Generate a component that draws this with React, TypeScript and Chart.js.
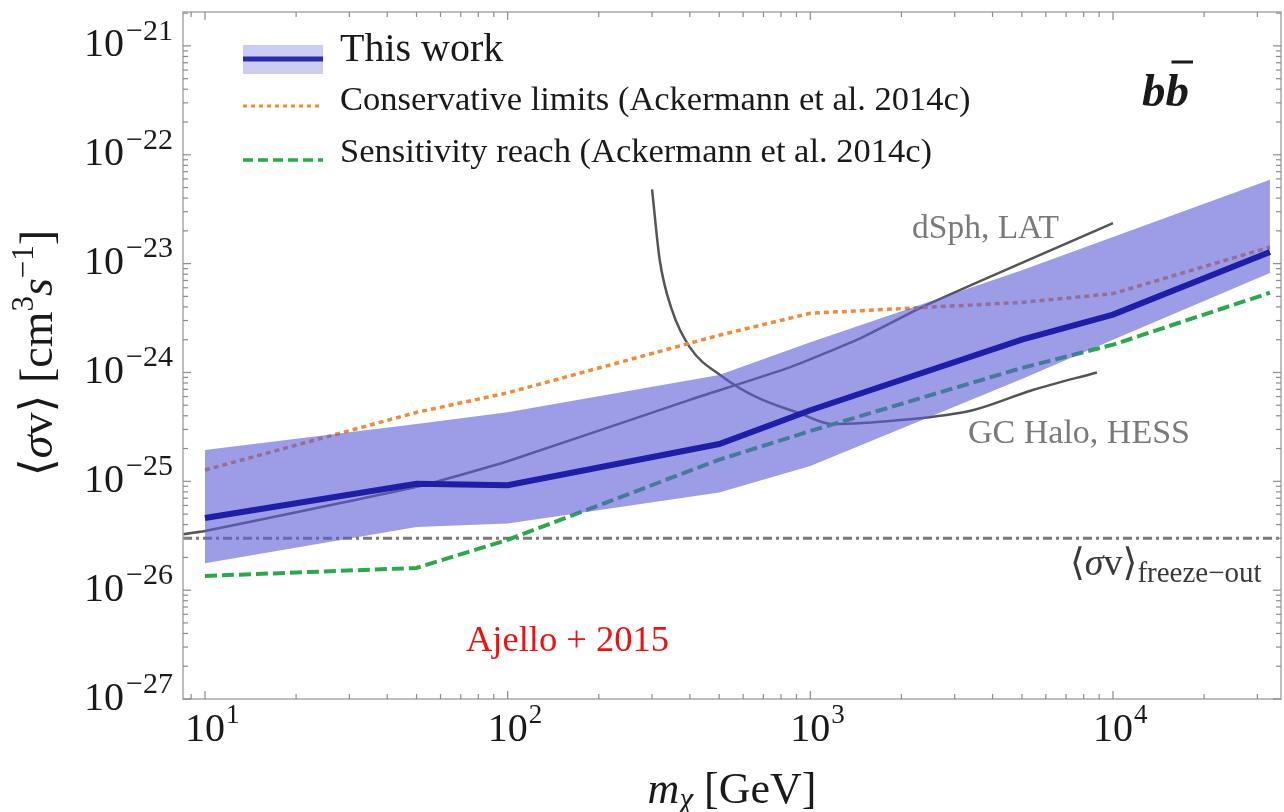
import React, { useEffect, useRef } from "react";
import { Chart, registerables } from "chart.js";

Chart.register(...registerables);

// Dark-matter mass grid (GeV) shared by the limit curves
const MASS = [10, 50, 100, 500, 1000, 5000, 10000, 33000];
// Median upper limit on <sigma v> (cm^3 s^-1), b-bbar channel
const THIS_WORK = [4.6e-26, 9.5e-26, 9.2e-26, 2.2e-25, 4.5e-25, 2.0e-24, 3.4e-24, 1.28e-23];
const BAND_HIGH = [1.94e-25, 3.36e-25, 4.3e-25, 9.5e-25, 1.9e-24, 8.7e-24, 1.76e-23, 5.9e-23];
const BAND_LOW = [1.77e-26, 3.8e-26, 4.1e-26, 7.9e-26, 1.38e-25, 8.7e-25, 2.0e-24, 8.2e-24];
const CONSERVATIVE = [1.27e-25, 4.3e-25, 6.5e-25, 2.2e-24, 3.5e-24, 4.4e-24, 5.3e-24, 1.42e-23];
const SENSITIVITY = [1.35e-26, 1.6e-26, 2.9e-26, 1.58e-25, 2.9e-25, 1.1e-24, 1.8e-24, 5.4e-24];

// dwarf spheroidal limits (Fermi-LAT)
const DSPH_MASS = [8, 10, 50, 100, 400, 860, 1430, 2350, 3900, 10000];
const DSPH = [3.2e-26, 3.5e-26, 8.9e-26, 1.53e-25, 5.6e-25, 1.12e-24, 2.0e-24, 4.0e-24, 7.5e-24, 2.36e-23];

// Galactic Centre halo limits (H.E.S.S.)
const HESS_MASS = [300, 318, 349, 400, 514, 667, 925, 1190, 1977, 3440, 5430, 8850];
const HESS = [4.8e-23, 1.08e-23, 3.75e-24, 1.7e-24, 9.1e-25, 5.9e-25, 4.2e-25, 3.35e-25, 3.65e-25, 4.5e-25, 6.9e-25, 1.0e-24];

// Thermal relic cross section
const FREEZE_OUT = 3e-26;

// Axis ranges and labelled decades
const X_MIN = 8.46;
const X_MAX = 35900;
const Y_MIN = 1e-27;
const Y_MAX = 2.05e-21;
const X_DECADES = [1, 2, 3, 4];
const Y_DECADES = [-21, -22, -23, -24, -25, -26, -27];

const SERIF = '"Liberation Serif", "Times New Roman", "DejaVu Serif", serif';

type Seg = { t: string; size: number; italic?: boolean; bold?: boolean; dy?: number; gap?: number };

function segFont(s: Seg) {
  return `${s.italic ? "italic " : ""}${s.bold ? "bold " : ""}${s.size}px ${SERIF}`;
}

function richWidth(ctx: CanvasRenderingContext2D, segs: Seg[]) {
  let w = 0;
  for (const s of segs) {
    ctx.font = segFont(s);
    w += ctx.measureText(s.t).width + (s.gap || 0);
  }
  return w;
}

function drawRich(
  ctx: CanvasRenderingContext2D,
  segs: Seg[],
  x: number,
  y: number,
  align: "left" | "center" | "right",
  color: string
) {
  const w = richWidth(ctx, segs);
  let cx = align === "left" ? x : align === "center" ? x - w / 2 : x - w;
  ctx.fillStyle = color;
  ctx.textBaseline = "middle";
  ctx.textAlign = "left";
  for (const s of segs) {
    ctx.font = segFont(s);
    cx += s.gap || 0;
    ctx.fillText(s.t, cx, y + (s.dy || 0));
    cx += ctx.measureText(s.t).width;
  }
}

const pts = (xs: number[], ys: number[]) => xs.map((x, i) => ({ x, y: ys[i] }));
const minus = (n: number) => String(n).replace("-", "\u2212");

const decorations = {
  id: "decorations",
  afterDatasetsDraw(chart: any) {
    const { ctx, chartArea: a } = chart;
    const xs = chart.scales.x;
    const ys = chart.scales.y;
    ctx.save();

    // frame
    ctx.strokeStyle = "#a9a9a9";
    ctx.lineWidth = 1.5;
    ctx.strokeRect(a.left, a.top, a.right - a.left, a.bottom - a.top);

    // inward ticks on all four sides
    ctx.strokeStyle = "#8c8c8c";
    ctx.lineWidth = 1.2;
    const seg = (x1: number, y1: number, x2: number, y2: number) => {
      ctx.beginPath();
      ctx.moveTo(x1, y1);
      ctx.lineTo(x2, y2);
      ctx.stroke();
    };
    for (let e = 0; e <= 4; e++) {
      for (let m = 1; m <= 9; m++) {
        const v = m * Math.pow(10, e);
        if (v < X_MIN || v > X_MAX) continue;
        const px = xs.getPixelForValue(v);
        const len = m === 1 ? 8 : 5;
        seg(px, a.bottom, px, a.bottom - len);
        seg(px, a.top, px, a.top + len);
      }
    }
    for (let e = -27; e <= -21; e++) {
      for (let m = 1; m <= 9; m++) {
        const v = m * Math.pow(10, e);
        if (v < Y_MIN || v > Y_MAX) continue;
        const py = ys.getPixelForValue(v);
        const len = m === 1 ? 8 : 5;
        seg(a.left, py, a.left + len, py);
        seg(a.right, py, a.right - len, py);
      }
    }

    // tick labels
    for (const d of Y_DECADES) {
      const py = ys.getPixelForValue(Math.pow(10, d));
      drawRich(
        ctx,
        [
          { t: "10", size: 40 },
          { t: minus(d), size: 30, dy: -14, gap: 2 },
        ],
        a.left - 10,
        py,
        "right",
        "#1a1a1a"
      );
    }
    for (const d of X_DECADES) {
      const px = xs.getPixelForValue(Math.pow(10, d));
      ctx.font = `40px ${SERIF}`;
      const w10 = ctx.measureText("10").width;
      drawRich(ctx, [{ t: "10", size: 40 }, { t: String(d), size: 27, dy: -14, gap: 1 }], px - w10 / 2, 730, "left", "#1a1a1a");
    }

    // axis titles
    drawRich(
      ctx,
      [
        { t: "m", size: 44, italic: true },
        { t: "\u03C7", size: 31, italic: true, dy: 10 },
        { t: " [GeV]", size: 44 },
      ],
      732,
      791,
      "center",
      "#1a1a1a"
    );
    ctx.save();
    ctx.translate(40, 353);
    ctx.rotate(-Math.PI / 2);
    drawRich(
      ctx,
      [
        { t: "\u27E8", size: 46 },
        { t: "\u03C3", size: 46, italic: true },
        { t: "v", size: 46 },
        { t: "\u27E9", size: 46 },
        { t: " [cm", size: 46 },
        { t: "3", size: 31, dy: -15 },
        { t: "s", size: 46, italic: true },
        { t: "\u22121", size: 31, dy: -15 },
        { t: "]", size: 46 },
      ],
      0,
      0,
      "center",
      "#1a1a1a"
    );
    ctx.restore();

    // curve annotations
    drawRich(ctx, [{ t: "dSph, LAT", size: 33.5 }], 912, 229, "left", "#7a7a7a");
    drawRich(ctx, [{ t: "GC Halo, HESS", size: 34 }], 968, 434, "left", "#7a7a7a");
    drawRich(
      ctx,
      [
        { t: "\u27E8", size: 38 },
        { t: "\u03C3", size: 38, italic: true },
        { t: "v", size: 38 },
        { t: "\u27E9", size: 38 },
        { t: "freeze\u2212out", size: 29, dy: 9 },
      ],
      1070,
      565,
      "left",
      "#3a3a3a"
    );
    drawRich(ctx, [{ t: "Ajello + 2015", size: 36.5 }], 466, 641, "left", "#ee1111");

    // channel label b b-bar
    ctx.font = `italic bold 47px ${SERIF}`;
    ctx.fillStyle = "#1a1a1a";
    ctx.textBaseline = "alphabetic";
    ctx.textAlign = "left";
    const bw = ctx.measureText("b").width;
    ctx.fillText("bb", 1142, 106);
    ctx.strokeStyle = "#1a1a1a";
    ctx.lineWidth = 3;
    seg(1142 + bw + 6, 62, 1142 + 2 * bw + 4, 62);

    // legend
    ctx.fillStyle = "rgba(90,90,215,0.3)";
    ctx.fillRect(243, 45, 80, 29);
    ctx.strokeStyle = "#2a2ab0";
    ctx.lineWidth = 5;
    seg(243, 59, 323, 59);
    ctx.strokeStyle = "#f08a3c";
    ctx.lineWidth = 3;
    ctx.setLineDash([4, 4]);
    seg(243, 106, 323, 106);
    ctx.strokeStyle = "#2aa84a";
    ctx.lineWidth = 3.5;
    ctx.setLineDash([10, 5]);
    seg(243, 160, 323, 160);
    ctx.setLineDash([]);
    drawRich(ctx, [{ t: "This work", size: 40 }], 340, 50, "left", "#1a1a1a");
    drawRich(ctx, [{ t: "Conservative limits (Ackermann et al. 2014c)", size: 34.5 }], 340, 101, "left", "#1a1a1a");
    drawRich(ctx, [{ t: "Sensitivity reach (Ackermann et al. 2014c)", size: 34.5 }], 340, 153, "left", "#1a1a1a");

    ctx.restore();
  },
};

export default function App() {
  const ref = useRef<HTMLCanvasElement>(null);

  useEffect(() => {
    const canvas = ref.current;
    if (!canvas) return;
    const chart = new Chart(canvas, {
      type: "line",
      data: {
        datasets: [
          {
            label: "band high",
            data: pts(MASS, BAND_HIGH),
            borderWidth: 0,
            pointRadius: 0,
            backgroundColor: "rgba(90,90,215,0.6)",
            fill: "+1",
            order: 1,
          },
          {
            label: "band low",
            data: pts(MASS, BAND_LOW),
            borderWidth: 0,
            pointRadius: 0,
            fill: false,
            order: 1,
          },
          {
            label: "This work",
            data: pts(MASS, THIS_WORK),
            borderColor: "#1e1ea6",
            borderWidth: 6,
            pointRadius: 0,
            fill: false,
            order: 0,
          },
          {
            label: "Conservative limits",
            data: pts(MASS, CONSERVATIVE),
            borderColor: "#f08a3c",
            borderWidth: 3.5,
            borderDash: [5, 4],
            pointRadius: 0,
            fill: false,
            order: 2,
          },
          {
            label: "Sensitivity reach",
            data: pts(MASS, SENSITIVITY),
            borderColor: "#2aa84a",
            borderWidth: 4,
            borderDash: [12, 5],
            pointRadius: 0,
            fill: false,
            order: 2,
          },
          {
            label: "dSph, LAT",
            data: pts(DSPH_MASS, DSPH),
            borderColor: "#555555",
            borderWidth: 2.5,
            pointRadius: 0,
            tension: 0.15,
            fill: false,
            order: 2,
          },
          {
            label: "GC Halo, HESS",
            data: pts(HESS_MASS, HESS),
            borderColor: "#555555",
            borderWidth: 2.5,
            pointRadius: 0,
            cubicInterpolationMode: "monotone",
            fill: false,
            order: 2,
          },
          {
            label: "freeze-out",
            data: [
              { x: X_MIN, y: FREEZE_OUT },
              { x: X_MAX, y: FREEZE_OUT },
            ],
            borderColor: "#7a7a7a",
            borderWidth: 3,
            borderDash: [9, 4, 3, 4],
            pointRadius: 0,
            fill: false,
            order: 2,
          },
        ],
      },
      options: {
        animation: false,
        responsive: false,
        devicePixelRatio: 1,
        layout: { padding: { left: 183, top: 12, right: 3, bottom: 113 } },
        scales: {
          x: { type: "logarithmic", min: X_MIN, max: X_MAX, display: false },
          y: { type: "logarithmic", min: Y_MIN, max: Y_MAX, display: false },
        },
        plugins: {
          legend: { display: false },
          tooltip: { enabled: false },
          filler: { drawTime: "beforeDatasetDraw" },
        },
      },
      plugins: [decorations],
    } as any);
    return () => chart.destroy();
  }, []);

  return (
    <div style={{ position: "fixed", left: 0, top: 0, width: 1284, height: 812, background: "#ffffff" }}>
      <canvas ref={ref} width={1284} height={812} style={{ width: 1284, height: 812, display: "block" }} />
    </div>
  );
}
